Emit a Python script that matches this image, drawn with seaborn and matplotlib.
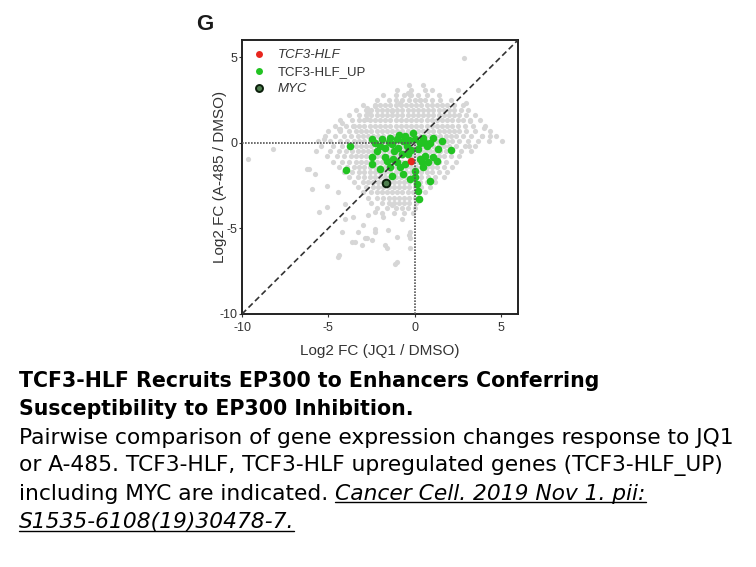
import numpy as np
import pandas as pd
import seaborn as sns
import matplotlib.pyplot as plt
from matplotlib.lines import Line2D

# ---- data ----
# dense grey cloud: one list of x values per y row
cloud_y = [3.4, 3.1, 2.8, 2.5, 2.2, 1.9, 1.6, 1.3, 1.0, 0.7, 0.4, 0.1, -0.2, -0.5,
           -0.8, -1.1, -1.4, -1.7, -2.0, -2.3, -2.6, -2.9, -3.2, -3.5, -3.8, -4.1]
cloud_x = [
    [-0.3, 0.5],
    [-1.0, -0.2, 0.6],
    [-1.8, -1.1, -0.6, -0.2, 0.2, 0.7, 1.4],
    [-2.2, -1.5, -1.1, -0.7, -0.3, 0.0, 0.3, 0.6, 1.0, 1.5, 2.1],
    [-3.0, -2.3, -2.0, -1.7, -1.4, -1.1, -0.8, -0.5, -0.2, 0.1, 0.4, 0.7, 1.0, 1.3, 1.6,
     1.9, 2.3, 2.8],
    [-3.4, -2.8, -2.5, -2.2, -1.9, -1.6, -1.3, -1.0, -0.7, -0.4, -0.1, 0.2, 0.5, 0.8, 1.1,
     1.4, 1.7, 2.0, 2.3, 2.7, 3.1],
    [-3.8, -3.2, -2.8, -2.5, -2.2, -1.9, -1.6, -1.3, -1.0, -0.7, -0.4, -0.1, 0.2, 0.5, 0.8,
     1.1, 1.4, 1.7, 2.0, 2.3, 2.6, 3.0, 3.5],
    [-4.3, -3.6, -3.2, -2.9, -2.6, -2.3, -2.0, -1.7, -1.4, -1.1, -0.8, -0.5, -0.2, 0.1, 0.4,
     0.7, 1.0, 1.3, 1.6, 1.9, 2.2, 2.5, 2.8, 3.2, 3.8],
    [-4.6, -4.0, -3.5, -3.2, -2.9, -2.6, -2.3, -2.0, -1.7, -1.4, -1.1, -0.8, -0.5, -0.2, 0.1,
     0.4, 0.7, 1.0, 1.3, 1.6, 1.9, 2.2, 2.5, 2.9, 3.4, 4.1],
    [-5.0, -4.3, -3.8, -3.4, -3.1, -2.8, -2.5, -2.2, -1.9, -1.6, -1.3, -1.0, -0.7, -0.4, -0.1,
     0.2, 0.5, 0.8, 1.1, 1.4, 1.7, 2.0, 2.3, 2.6, 3.0, 3.5, 4.4],
    [-5.2, -4.6, -4.1, -3.7, -3.3, -3.0, -2.7, -2.4, -2.1, -1.8, -1.5, -1.2, -0.9, -0.6, -0.3,
     0.0, 0.3, 0.6, 0.9, 1.2, 1.5, 1.8, 2.1, 2.4, 2.8, 3.3, 3.9, 4.7],
    [-5.6, -4.9, -4.3, -3.9, -3.5, -3.2, -2.9, -2.6, -2.3, -2.0, -1.7, -1.4, -1.1, -0.8, -0.5,
     -0.2, 0.1, 0.4, 0.7, 1.0, 1.3, 1.6, 1.9, 2.2, 2.6, 3.1, 3.7, 4.3],
    [-5.4, -4.7, -4.2, -3.8, -3.4, -3.1, -2.8, -2.5, -2.2, -1.9, -1.6, -1.3, -1.0, -0.7, -0.4,
     -0.1, 0.2, 0.5, 0.8, 1.1, 1.4, 1.7, 2.0, 2.4, 2.9, 3.5],
    [-5.7, -4.9, -4.4, -4.0, -3.6, -3.3, -3.0, -2.7, -2.4, -2.1, -1.8, -1.5, -1.2, -0.9, -0.6,
     -0.3, 0.0, 0.3, 0.6, 0.9, 1.2, 1.5, 1.8, 2.2, 2.7, 3.3],
    [-5.1, -4.5, -4.1, -3.7, -3.4, -3.1, -2.8, -2.5, -2.2, -1.9, -1.6, -1.3, -1.0, -0.7, -0.4,
     -0.1, 0.2, 0.5, 0.8, 1.1, 1.4, 1.7, 2.1, 2.6],
    [-4.7, -4.2, -3.8, -3.4, -3.1, -2.8, -2.5, -2.2, -1.9, -1.6, -1.3, -1.0, -0.7, -0.4, -0.1,
     0.2, 0.5, 0.8, 1.1, 1.4, 1.8, 2.4],
    [-4.4, -3.9, -3.5, -3.2, -2.9, -2.6, -2.3, -2.0, -1.7, -1.4, -1.1, -0.8, -0.5, -0.2, 0.1,
     0.4, 0.7, 1.0, 1.3, 1.7, 2.2],
    [-4.1, -3.6, -3.2, -2.9, -2.6, -2.3, -2.0, -1.7, -1.4, -1.1, -0.8, -0.5, -0.2, 0.1, 0.4,
     0.7, 1.0, 1.4, 1.9],
    [-3.8, -3.3, -2.9, -2.6, -2.3, -2.0, -1.7, -1.4, -1.1, -0.8, -0.5, -0.2, 0.1, 0.4, 0.8,
     1.2, 1.7],
    [-3.5, -3.0, -2.7, -2.4, -2.1, -1.8, -1.5, -1.2, -0.9, -0.6, -0.3, 0.0, 0.3, 0.7, 1.2],
    [-3.3, -2.8, -2.4, -2.1, -1.8, -1.5, -1.2, -0.9, -0.6, -0.3, 0.0, 0.4, 0.9],
    [-3.0, -2.5, -2.2, -1.9, -1.6, -1.3, -1.0, -0.7, -0.4, -0.1, 0.2, 0.6],
    [-2.7, -2.2, -1.8, -1.5, -1.2, -0.9, -0.6, -0.3, 0.0, 0.3],
    [-2.5, -1.9, -1.5, -1.2, -0.9, -0.6, -0.3, 0.1],
    [-2.2, -1.6, -1.1, -0.7, -0.4, 0.0],
    [-1.9, -1.2, -0.6, -0.1],
]

# scattered grey genes outside the dense cloud
sparse_x = [2.85, 1.01, 2.54, 3.0, 3.22, 4.38, 4.0, 0.32, -0.36, -0.26, -0.84, -1.33,
            -2.29, -2.68, -2.78, -3.55, -4.22, -4.32, -2.75, 3.91, 3.14, 5.05,
            -9.65, -8.2, -6.14, -5.27, -4.4, -5.94, -5.56, -4.40, -1.11, -3.43, -2.85,
            -2.27, -1.69, -0.34, -0.72, -4.01, -2.27, -1.3, -0.24, -6.25, -5.77, -5.09,
            -4.42, -5.09, -4.03, -3.55, -2.68, -1.81, -2.97, -2.29, -4.22, -3.64, -2.77,
            -2.48, -1.52, -1.03, -0.26, -0.26, -4.42, -1.03, -1.61, -3.06, -3.26]
sparse_y = [4.94, 3.10, 3.10, 2.33, 1.26, 0.40, 0.88, 2.52, 2.91, 2.81, 2.33, 1.84,
            2.13, 1.75, 1.36, 0.97, 1.17, 0.78, 2.04, 0.40, -0.18, 0.1,
            -0.96, -0.34, -1.54, 0.2, 0.78, -2.70, -4.05, -6.56, -7.10, -5.79, -5.59,
            -5.21, -5.98, -5.40, -4.43, -4.43, -4.05, -3.66, -6.17, -1.54, -1.83, -2.50,
            -2.89, -3.76, -3.57, -4.34, -4.24, -4.34, -4.82, -5.01, -5.21, -5.79, -5.59,
            -5.69, -5.11, -5.50, -5.59, -5.2, -6.66, -6.95, -6.17, -5.98, -5.21]

# TCF3-HLF upregulated genes
up_x = [-3.74, -3.97, -2.48, -2.29, -1.90, -1.42, -1.03, -0.55, -0.07, 0.03, 0.51, 1.09,
        1.57, 2.12, 1.38, 1.09, 1.28, 0.61, 0.41, 0.51, 0.03, 0.03, 0.13, 0.22, 0.26,
        0.90, -0.26, -0.84, -1.42, -2.0, -2.48, -2.48, -2.19, -1.71, -1.71, -1.23,
        -0.74, -0.45, -0.94, -1.32, -2.0, -0.36, 0.22, 0.70, 0.90, 0.32, -0.65, -1.61,
        -1.03, -0.55, 0.32, 0.80, -0.65, -1.32, -1.2, -0.2, -1.5, 0.6, -0.9, -0.3]
up_y = [-0.19, -1.58, 0.20, 0.01, 0.20, 0.30, 0.20, 0.39, 0.59, 0.20, 0.30, 0.30,
        0.10, -0.44, -0.38, -0.86, -1.06, -0.77, -1.15, -1.44, -1.64, -2.02, -2.41,
        -2.80, -3.28, -2.22, -2.12, -1.44, -1.44, -1.54, -1.25, -0.86, -0.48, -0.28,
        -0.86, -0.96, -0.67, -0.19, -0.28, -0.09, -0.19, -0.67, -0.38, -0.19, 0.01,
        0.01, 0.10, -1.06, -1.15, -1.25, -0.96, -1.15, -1.83, -1.92, -0.5, -0.4, 0.05,
        0.0, 0.45, 0.15]

tcf3_hlf = (-0.2, -1.08)
myc = (-1.68, -2.36)

axis_min, axis_max = -10, 6
ticks = [-10, -5, 0, 5]

caption_bold = ["TCF3-HLF Recruits EP300 to Enhancers Conferring",
                "Susceptibility to EP300 Inhibition."]
caption_body = ["Pairwise comparison of gene expression changes response to JQ1",
                "or A-485. TCF3-HLF, TCF3-HLF upregulated genes (TCF3-HLF_UP)"]
caption_tail = "including MYC are indicated. "
citation = ["Cancer Cell. 2019 Nov 1. pii:", "S1535-6108(19)30478-7."]

# ---- build frames ----
bg = pd.DataFrame({
    "jq1": [x for xs in cloud_x for x in xs] + sparse_x,
    "a485": [y for y, xs in zip(cloud_y, cloud_x) for _ in xs] + sparse_y,
})
up = pd.DataFrame({"jq1": up_x, "a485": up_y})

sns.set_style("ticks")
plt.rcParams["font.family"] = ["Liberation Sans", "DejaVu Sans"]

fig = plt.figure(figsize=(7.56, 5.67), dpi=100)
ax = fig.add_axes([242 / 756, 1 - 314 / 567, 276 / 756, 274 / 567])

grey = "#d6d6d6"
green = "#22c322"
red = "#e8261e"
sns.scatterplot(data=bg, x="jq1", y="a485", color=grey, s=14, linewidth=0, ax=ax, zorder=1)
sns.scatterplot(data=up, x="jq1", y="a485", color=green, s=30, linewidth=0, ax=ax, zorder=2)
sns.scatterplot(x=[tcf3_hlf[0]], y=[tcf3_hlf[1]], color=red, s=30, linewidth=0,
                ax=ax, zorder=3)
sns.scatterplot(x=[myc[0]], y=[myc[1]], color="#4f7f4f", edgecolor="#0b1f0b", s=30,
                linewidth=1.4, ax=ax, zorder=3)

ax.plot([axis_min, axis_max], [axis_min, axis_max], ls=(0, (3.5, 2)), color="#333333",
        lw=1.2, zorder=4)
ax.plot([axis_min, 0], [0, 0], ls=(0, (1, 0.8)), color="#555555", lw=1.2, zorder=4)
ax.plot([0, 0], [axis_min, 0], ls=(0, (1, 0.8)), color="#555555", lw=1.2, zorder=4)

ax.set_xlim(axis_min, axis_max)
ax.set_ylim(axis_min, axis_max)
ax.set_xticks(ticks)
ax.set_yticks(ticks)
ax.set_xticklabels([str(t) for t in ticks])
ax.set_yticklabels([str(t) for t in ticks])
ax.tick_params(labelsize=9, colors="#333333", length=2.5, width=0.8, pad=1)
ax.tick_params(axis="x", pad=3.5)
for sp in ax.spines.values():
    sp.set_color("#222222")
    sp.set_linewidth(1.4)
ax.set_xlabel("Log2 FC (JQ1 / DMSO)", fontsize=11, color="#333333", labelpad=7)
ax.set_ylabel("Log2 FC (A-485 / DMSO)", fontsize=11, color="#333333", labelpad=-6)

handles = [
    Line2D([], [], marker="o", ls="", markersize=5, markerfacecolor=red,
           markeredgewidth=0),
    Line2D([], [], marker="o", ls="", markersize=5, markerfacecolor=green,
           markeredgewidth=0),
    Line2D([], [], marker="o", ls="", markersize=5, markerfacecolor="#4f7f4f",
           markeredgecolor="#0b1f0b", markeredgewidth=1.4),
]
leg = ax.legend(handles, ["TCF3-HLF", "TCF3-HLF_UP", "MYC"], loc="upper left",
                frameon=False, fontsize=9.5, handletextpad=0.8, labelspacing=0.35,
                borderaxespad=0.4, handlelength=1.2, borderpad=0.3)
for txt, ital in zip(leg.get_texts(), [True, False, True]):
    txt.set_color("#333333")
    if ital:
        txt.set_fontstyle("italic")

fig.text(196 / 756, 1 - 30 / 567, "G", fontsize=16, fontweight="bold", color="#1a1a1a")

# ---- caption ----
cap_font = ["DejaVu Sans"]
x0 = 19 / 756
baselines = [387, 415, 443.5, 471.5, 499.5, 528]
for i, line in enumerate(caption_bold):
    fig.text(x0, 1 - baselines[i] / 567, line, fontsize=14.8, fontweight="bold",
             va="baseline", family=cap_font, color="black")
for i, line in enumerate(caption_body):
    fig.text(x0, 1 - baselines[i + 2] / 567, line, fontsize=15.7, va="baseline",
             family=cap_font, color="black")

tail = fig.text(x0, 1 - baselines[4] / 567, caption_tail, fontsize=15.7, va="baseline",
                family=cap_font, color="black")
fig.canvas.draw()
renderer = fig.canvas.get_renderer()
tail_right = tail.get_window_extent(renderer).x1 / fig.bbox.width

def underlined(x, base_px, s):
    t = fig.text(x, 1 - base_px / 567, s, fontsize=15.7, fontstyle="italic",
                 va="baseline", family=cap_font, color="black")
    bb = t.get_window_extent(renderer)
    yline = 1 - (base_px + 2.5) / 567
    fig.add_artist(Line2D([bb.x0 / fig.bbox.width, bb.x1 / fig.bbox.width],
                          [yline, yline], color="black", lw=1.0))

underlined(tail_right, baselines[4], citation[0])
underlined(x0, baselines[5], citation[1])

fig.savefig("out.png", dpi=100)
